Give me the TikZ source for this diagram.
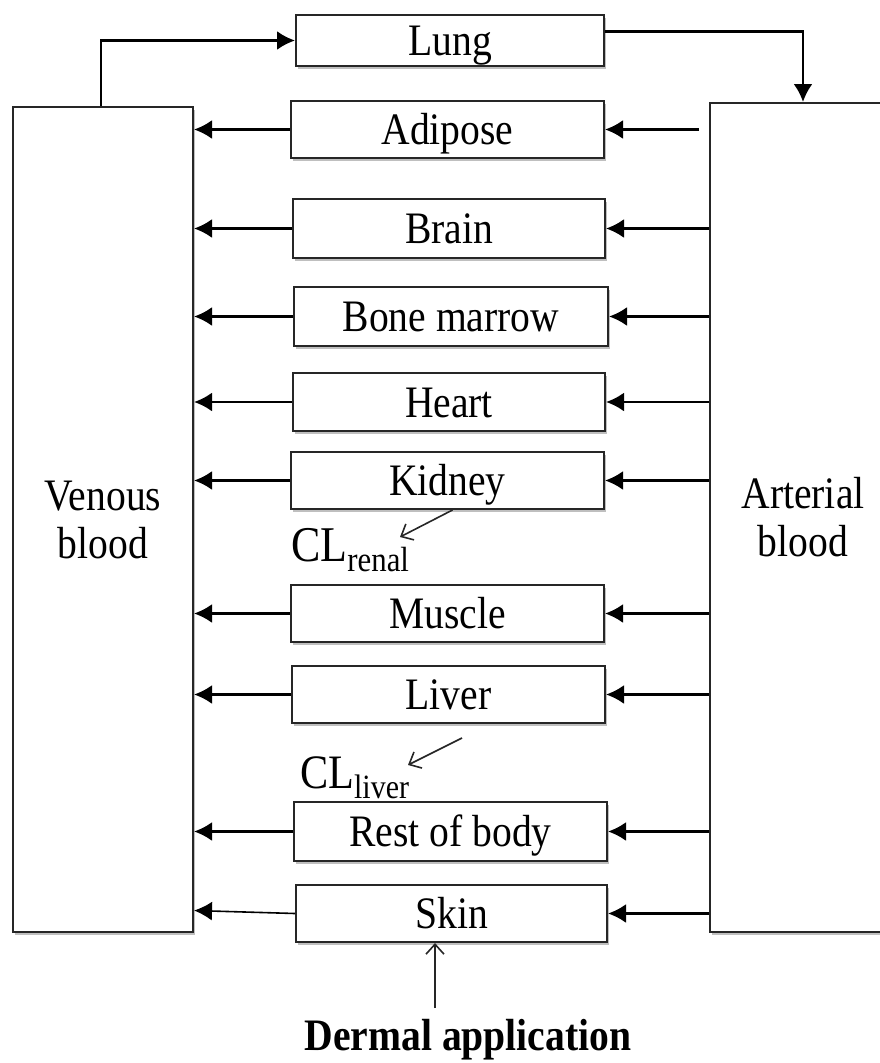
\documentclass[tikz,border=0pt]{standalone}
\usepackage{fontspec}
\setmainfont[FakeStretch=0.88]{Liberation Serif}
\usetikzlibrary{arrows.meta,shadows,calc}
\begin{document}
\begin{tikzpicture}[x=1pt,y=-1pt,
  organ/.style={draw=black!85,line width=2pt,fill=white,rectangle,inner sep=0pt,
    minimum width=312pt,minimum height=57pt,text height=30pt,text depth=0pt,
    font=\fontsize{45}{48}\selectfont,
    drop shadow={shadow xshift=2pt,shadow yshift=-3pt,opacity=0.25,fill=black}},
  blood/.style={draw=black!85,line width=2pt,fill=white,rectangle,inner sep=0pt,align=center,
    font=\fontsize{45}{48}\selectfont,
    drop shadow={shadow xshift=2pt,shadow yshift=-3pt,opacity=0.25,fill=black}},
  flow/.style={draw=black,line width=2.6pt,-{Latex[length=18pt,width=19pt]}},
  thinflow/.style={draw=black!85,line width=1.6pt,-{Straight Barb[length=10pt,width=18pt,line width=1.6pt]}},
  cl/.style={inner sep=0pt,anchor=base west}
]
\useasboundingbox (0,0) rectangle (880,1063);

\node[blood,minimum width=180pt,minimum height=825pt] (ven) at (103,519.5) {Venous\\blood};
\node[blood,minimum width=186pt,minimum height=829pt] (art) at (803,517.5) {Arterial\\blood};

\node[organ,minimum width=308pt,minimum height=51pt] (lung) at (450,40.5) {Lung};
\node[organ,minimum width=313pt] (adipose) at (447.5,129.5) {Adipose};
\node[organ,minimum height=59pt] (brain) at (449,228.5) {Brain};
\node[organ,minimum width=314pt,minimum height=59pt] (bone) at (451,316.5) {Bone marrow};
\node[organ,minimum height=58pt] (heart) at (449,402) {Heart};
\node[organ,minimum width=313pt] (kidney) at (447.5,480.5) {Kidney};
\node[organ,minimum width=313pt] (muscle) at (447.5,613.5) {Muscle};
\node[organ,minimum width=313pt] (liver) at (448.5,694.5) {Liver};
\node[organ,minimum width=313pt,minimum height=59pt] (rest) at (450.5,831.5) {Rest of body};
\node[organ,minimum width=311pt] (skin) at (451.5,913.5) {Skin};

% lung loop
\draw[flow] (ven.north -| 101,0) |- (lung.west);
\draw[flow] ($(lung.east)+(0,-9)$) -| (art.north);

% arterial -> organs
\draw[flow] ($(art.west |- adipose.east)+(-10,0)$) -- (adipose.east);
\foreach \o in {brain,bone,heart,kidney,muscle,liver,rest,skin}
  \draw[flow] (art.west |- \o.east) -- (\o.east);

% organs -> venous
\foreach \o in {adipose,brain,bone,heart,kidney,muscle,liver,rest}
  \draw[flow] (\o.west) -- (ven.east |- \o.west);
\draw[flow,line width=1.6pt] (skin.west) -- ($(ven.east |- skin.west)+(0,-3)$);

% clearances
\node[cl] (clr) at (291,561) {{\fontsize{50}{50}\selectfont CL}\raisebox{-10pt}{\fontsize{35}{35}\selectfont renal}};
\coordinate (clrtip) at (400,537);
\draw[thinflow] ($(kidney.south)+(5,0)$) -- (clrtip);

\node[cl] (cll) at (300,788) {{\fontsize{48}{48}\selectfont CL}\raisebox{-10pt}{\fontsize{34}{34}\selectfont liver}};
\coordinate (clltop) at (462,738);
\coordinate (clltip) at (408,765);
\draw[thinflow] (clltop) -- (clltip);

% dermal
\node[inner sep=0pt,anchor=base,font=\fontsize{45}{48}\selectfont\bfseries] (dermal) at (468,1050) {Dermal application};
\coordinate (dermtop) at (435,1008);
\draw[thinflow] (dermtop) -- (skin.south -| dermtop);
\end{tikzpicture}
\end{document}
